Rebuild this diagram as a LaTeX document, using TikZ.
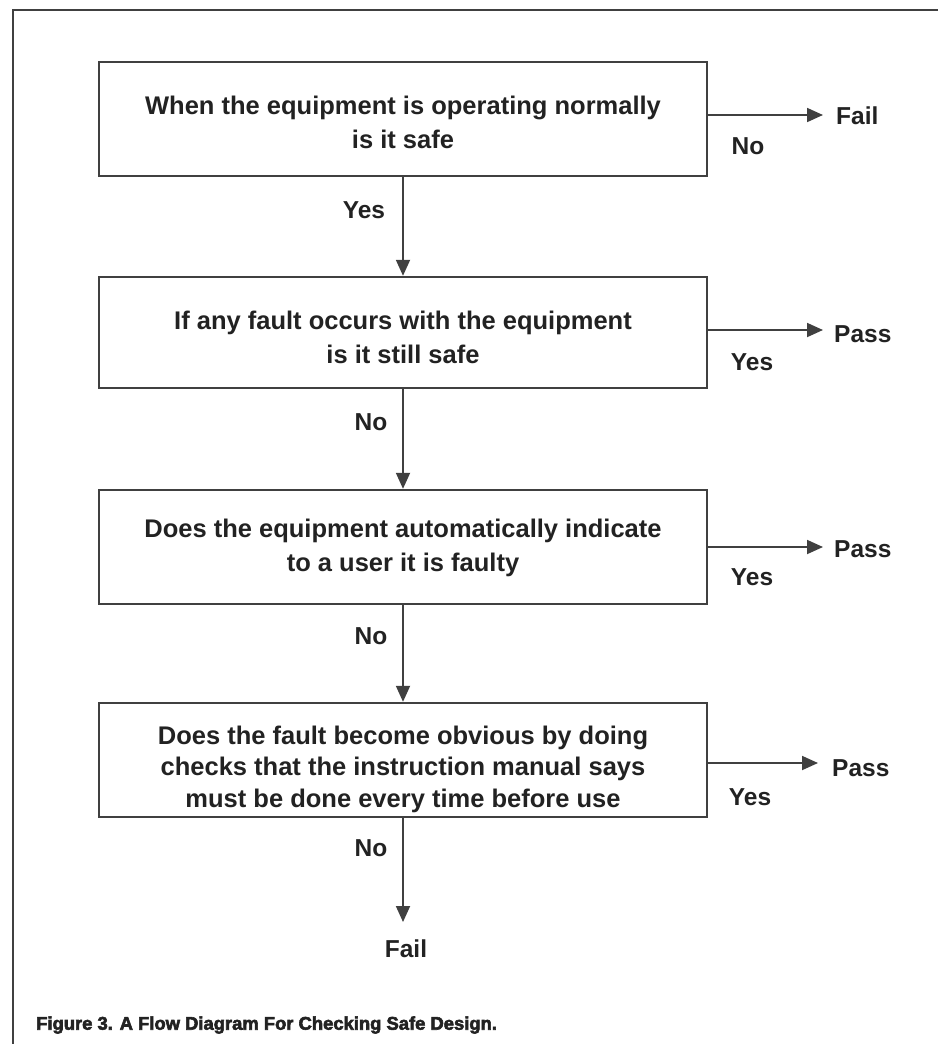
\documentclass[tikz,border=0pt]{standalone}
\usepackage{fontspec}
\setmainfont{Liberation Sans}
\newfontfamily\capfont{Liberation Sans Bold}[FakeBold=3]
\usetikzlibrary{arrows.meta}
\definecolor{lineC}{HTML}{404040}
\definecolor{textC}{HTML}{222222}
\begin{document}
\begin{tikzpicture}[x=1pt,y=-1pt,
 frame/.style={draw=lineC, line width=2.5pt},
 box/.style={draw=lineC, line width=2.4pt, minimum width=608pt, minimum height=114pt, inner sep=0pt},
 boxtext/.style={align=center, text=textC, font=\fontsize{25.5}{34}\selectfont\bfseries, inner sep=0pt},
 lbl/.style={font=\fontsize{24.5}{28}\selectfont\bfseries, text=textC, inner sep=0pt},
 arr/.style={draw=lineC, line width=1.8pt, -{Triangle[length=16pt,width=14pt]}},
]
\useasboundingbox (0,0) rectangle (938,1044);
\fill[white] (0,0) rectangle (938,1044);
\coordinate (fr1) at (13,1044);
\coordinate (fr2) at (13,10);
\coordinate (fr3) at (938,10);
\draw[frame] (fr1) -- (fr2) -- (fr3);

\node[box] (b1) at (403,119) {};
\node[box, minimum height=111pt] (b2) at (403,332.5) {};
\node[box] (b3) at (403,547) {};
\node[box] (b4) at (403,760) {};

\node[boxtext] (b1t) at ([yshift=-3pt]b1.center) {When the equipment is operating normally\\is it safe};
\node[boxtext] (b2t) at ([yshift=-5pt]b2.center) {If any fault occurs with the equipment\\is it still safe};
\node[boxtext] (b3t) at ([yshift=-1pt]b3.center) {Does the equipment automatically indicate\\to a user it is faulty};
\node[boxtext, font=\fontsize{25.5}{31.5}\selectfont\bfseries] (b4t) at ([yshift=-9pt]b4.center) {Does the fault become obvious by doing\\checks that the instruction manual says\\must be done every time before use};

% vertical arrows
\draw[arr] (b1.south) -- (b2.north);
\draw[arr] (b2.south) -- (b3.north);
\draw[arr] (b3.south) -- (b4.north);
\coordinate (e4) at (403,922);
\draw[arr] (b4.south) -- (e4);

\node[lbl] (y1) at (364,210) {Yes};
\node[lbl] (n2) at (371,422) {No};
\node[lbl] (n3) at (371,636) {No};
\node[lbl] (n4) at (371,848) {No};
\node[lbl] (fb) at (406,949) {Fail};

% horizontal arrows
\coordinate (t1) at (823,115);
\draw[arr] (b1.east |- t1) -- (t1);
\node[lbl, anchor=west] (f1) at (836,116) {Fail};
\node[lbl] (n1) at (748,146) {No};

\coordinate (t2) at (823,330);
\draw[arr] (b2.east |- t2) -- (t2);
\node[lbl, anchor=west] (p2) at (834,334) {Pass};
\node[lbl] (y2) at (752,362) {Yes};

\coordinate (t3) at (823,547);
\draw[arr] (b3.east |- t3) -- (t3);
\node[lbl, anchor=west] (p3) at (834,549) {Pass};
\node[lbl] (y3) at (752,577) {Yes};

\coordinate (t4) at (818,763);
\draw[arr] (b4.east |- t4) -- (t4);
\node[lbl, anchor=west] (p4) at (832,768) {Pass};
\node[lbl] (y4) at (750,797) {Yes};

\node[anchor=west, inner sep=0pt, text=textC, font=\capfont\fontsize{18.4}{22}\selectfont] (cap) at (36,1025) {Figure 3. A Flow Diagram For Checking Safe Design.};
\end{tikzpicture}
\end{document}
